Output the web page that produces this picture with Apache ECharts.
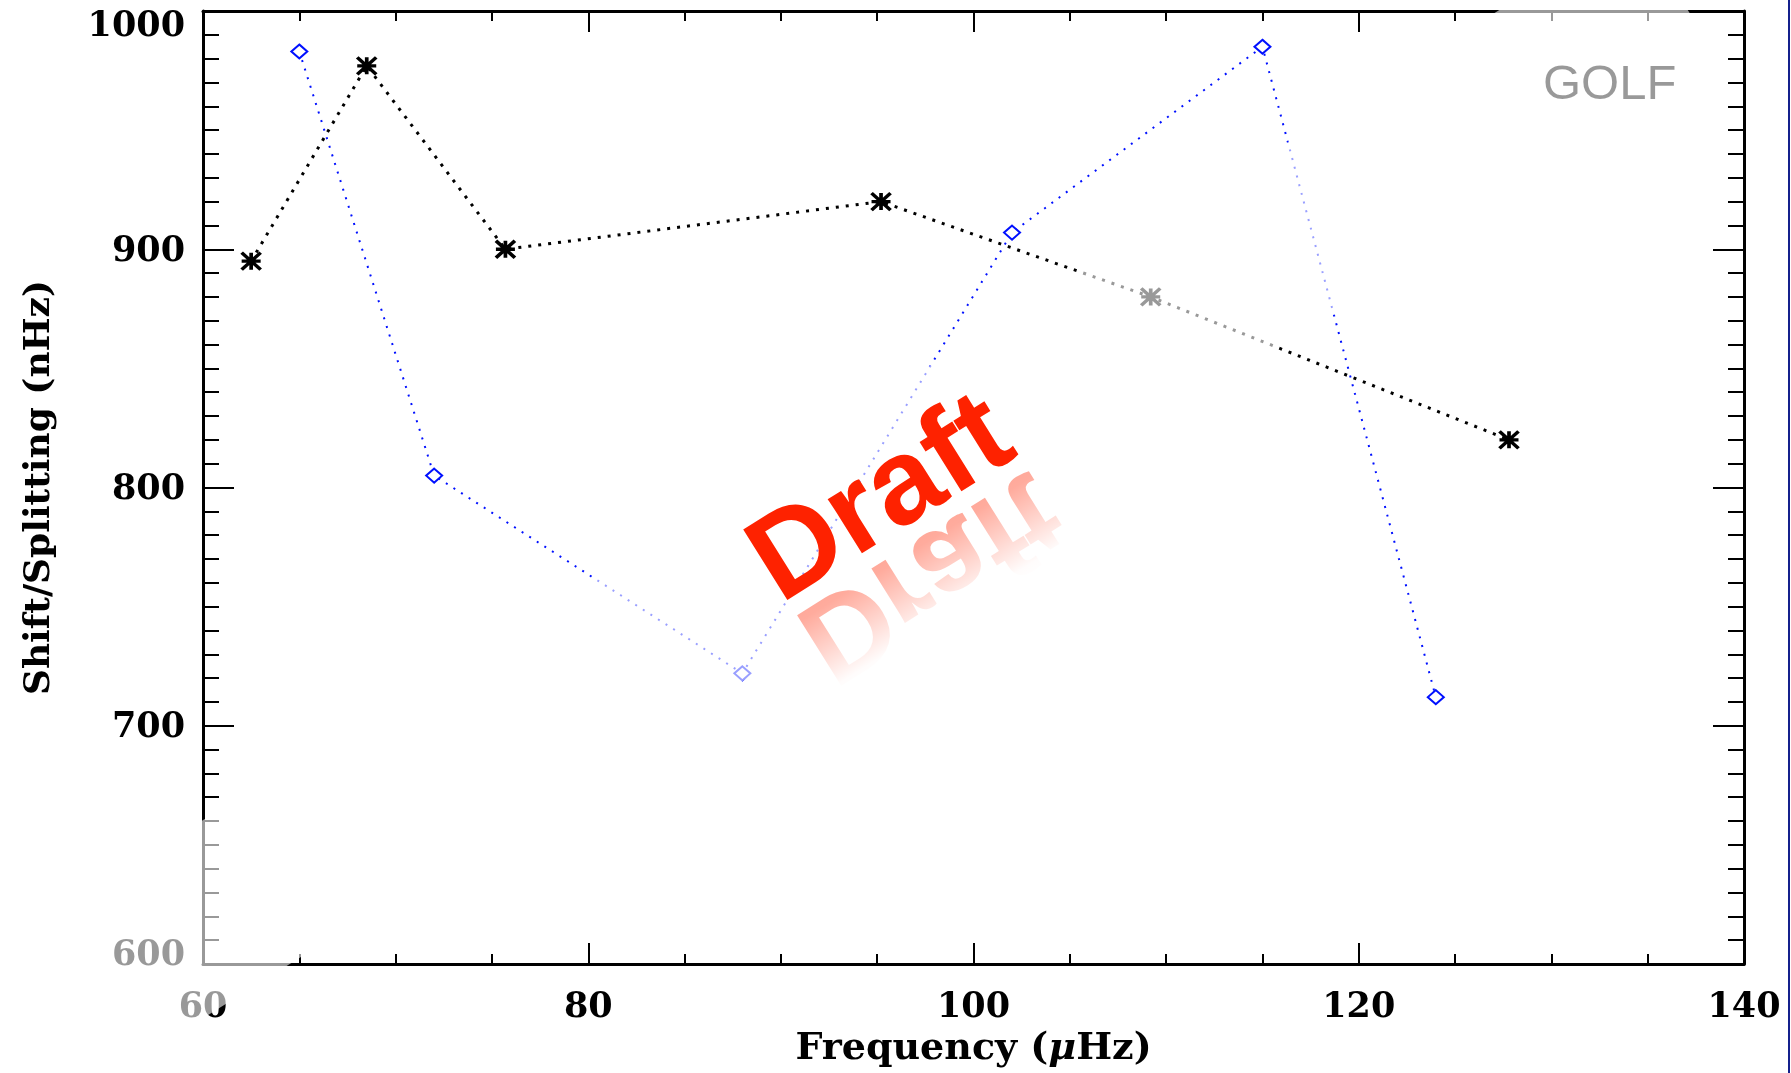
<!DOCTYPE html>
<html>
<head>
<meta charset="utf-8">
<title>GOLF shift / splitting</title>
<script src="https://cdn.jsdelivr.net/npm/echarts@6/dist/echarts.min.js"></script>
<style>
  html, body { margin: 0; padding: 0; background: #ffffff; }
  #chart { position: absolute; left: 0; top: 0; width: 1791px; height: 1073px; }
  #edge { position: absolute; left: 1788px; top: 0; width: 2px; height: 1073px; background: #14208c; }
</style>
</head>
<body>
<div id="chart"></div>
<div id="edge"></div>
<script>
// Frequency (µHz) and shift/splitting (nHz) for the two measured sets
const freqStar = [62.5, 68.5, 75.7, 95.2, 109.2, 127.8];
const shiftStar = [895, 977, 900, 920, 880, 820];
const freqDiamond = [65.0, 72.0, 88.0, 102.0, 115.0, 124.0];
const shiftDiamond = [983, 805, 722, 907, 985, 712];

// Axis tick values
const xTicks = [60, 80, 100, 120, 140];
const yTicks = [600, 700, 800, 900, 1000];

const serif = '"DejaVu Serif", "Liberation Serif", serif';
const sans = '"Liberation Sans", Arial, Helvetica, sans-serif';

const chart = echarts.init(document.getElementById('chart'), null, { renderer: 'canvas' });

function axisCommon(showLabel) {
  return {
    axisLine: { show: true, onZero: false, lineStyle: { color: '#000', width: 3 } },
    splitLine: { show: false },
    minorSplitLine: { show: false },
    axisLabel: { show: showLabel }
  };
}

const xMin = xTicks[0], xMax = xTicks[xTicks.length - 1], xStep = xTicks[1] - xTicks[0];
const yMin = yTicks[0], yMax = yTicks[yTicks.length - 1], yStep = yTicks[1] - yTicks[0];

const xBase = {
  type: 'value', min: xMin, max: xMax, interval: xStep,
  axisTick: { show: true, inside: true, length: 21, lineStyle: { color: '#000', width: 2 } },
  minorTick: { show: true, splitNumber: 4, length: 10, lineStyle: { color: '#000', width: 2 } }
};
const yBase = {
  type: 'value', min: yMin, max: yMax, interval: yStep,
  axisTick: { show: true, inside: true, length: 31, lineStyle: { color: '#000', width: 2 } },
  minorTick: { show: true, splitNumber: 10, length: 16, lineStyle: { color: '#000', width: 2 } }
};

// asterisk drawn as open strokes (X, horizontal and vertical bars)
const asterisk = 'path://M0 0L18 16M18 0L0 16M0 8L18 8M9 0L9 16';

// semi-transparent white band laid diagonally across the plot
const ang = 32 * Math.PI / 180;
const cs = Math.cos(ang), sn = Math.sin(ang);
function bandPt(a, b) { return [a * cs + b * sn, -a * sn + b * cs]; }
const hazePts = [bandPt(-450, 803), bandPt(-450, 971), bandPt(1426, 971), bandPt(1426, 803)];

const draftSize = 121;
const draftFont = 'bold ' + draftSize + 'px ' + sans;
const labelFont = { fontFamily: serif, fontSize: 35, fontWeight: 'bold', color: '#000' };

const option = {
  backgroundColor: '#ffffff',
  animation: false,
  grid: { left: 203, right: 47, top: 11, bottom: 109, containLabel: false },
  xAxis: [
    Object.assign({}, xBase, axisCommon(true), {
      position: 'bottom',
      axisLabel: Object.assign({ show: true, margin: 26, showMinLabel: true, showMaxLabel: true }, labelFont),
      name: 'Frequency ({mu|μ}Hz)',
      nameLocation: 'middle',
      nameGap: 66,
      nameTextStyle: {
        color: '#000', fontFamily: serif, fontSize: 38, fontWeight: 'bold',
        rich: {
          mu: { color: '#000', fontFamily: serif, fontSize: 38, fontWeight: 'bold', fontStyle: 'italic' }
        }
      }
    }),
    Object.assign({}, xBase, axisCommon(false), { position: 'top' })
  ],
  yAxis: [
    Object.assign({}, yBase, axisCommon(true), {
      position: 'left',
      axisLabel: Object.assign({
        show: true, margin: 18,
        showMinLabel: true, showMaxLabel: true,
        formatter: function (v) {
          if (v === yMax) return '{hi|' + v + '}';
          if (v === yMin) return '{lo|' + v + '}';
          return '{n|' + v + '}';
        },
        rich: {
          n: Object.assign({ padding: [5, 0, 0, 0] }, labelFont),
          hi: Object.assign({ padding: [31, 0, 0, 0] }, labelFont),
          lo: Object.assign({ padding: [0, 0, 17, 0] }, labelFont)
        }
      }, labelFont),
      name: 'Shift/Splitting (nHz)',
      nameLocation: 'middle',
      nameGap: 145,
      nameTextStyle: { color: '#000', fontFamily: serif, fontSize: 36, fontWeight: 'bold' }
    }),
    Object.assign({}, yBase, axisCommon(false), { position: 'right' })
  ],
  series: [
    {
      name: 'asterisk set',
      type: 'line',
      xAxisIndex: 0, yAxisIndex: 0,
      data: freqStar.map((f, i) => [f, shiftStar[i]]),
      symbol: asterisk,
      symbolSize: [19, 17],
      itemStyle: { color: '#000', borderColor: '#000', borderWidth: 3.5 },
      lineStyle: { color: '#000', width: 3, type: [3, 7] },
      z: 3
    },
    {
      name: 'diamond set',
      type: 'line',
      xAxisIndex: 0, yAxisIndex: 0,
      data: freqDiamond.map((f, i) => [f, shiftDiamond[i]]),
      symbol: 'emptyDiamond',
      symbolSize: [16, 14],
      itemStyle: { color: '#0010ff', borderWidth: 2 },
      lineStyle: { color: '#0010ff', width: 2, type: [2, 7] },
      z: 4
    }
  ],
  graphic: [
    {
      type: 'text', z: 10,
      x: 1543, y: 85,
      style: {
        text: 'GOLF', font: 'normal 49px ' + sans, fill: '#000',
        textAlign: 'left', textVerticalAlign: 'middle', align: 'left', verticalAlign: 'middle'
      }
    },
    {
      type: 'polygon', z: 50, silent: true,
      shape: { points: hazePts },
      style: { fill: 'rgba(255,255,255,0.6)', stroke: null }
    },
    {
      type: 'group', z: 60,
      x: 793, y: 607, rotation: ang,
      children: [
        // mirrored copy below the baseline
        {
          type: 'text', z: 60,
          x: -9, y: 0, scaleY: -1,
          style: {
            text: 'Draft', font: draftFont, x: 0, y: -0.35 * draftSize,
            textAlign: 'left', textVerticalAlign: 'middle', align: 'left', verticalAlign: 'middle',
            fill: 'rgba(255,45,10,0.42)'
          }
        },
        // fade of the mirrored copy, from clear at the baseline to white
        {
          type: 'rect', z: 61, silent: true,
          shape: { x: -30, y: 0, width: 340, height: 105 },
          style: {
            stroke: null,
            fill: new echarts.graphic.LinearGradient(0, 0, 0, 1, [
              { offset: 0, color: 'rgba(255,255,255,0)' },
              { offset: 0.15, color: 'rgba(255,255,255,0.05)' },
              { offset: 0.85, color: 'rgba(255,255,255,0.97)' },
              { offset: 1, color: 'rgba(255,255,255,1)' }
            ])
          }
        },
        {
          type: 'text', z: 62,
          x: -9, y: 0,
          style: {
            text: 'Draft', font: draftFont, x: 0, y: -0.35 * draftSize,
            textAlign: 'left', textVerticalAlign: 'middle', align: 'left', verticalAlign: 'middle',
            fill: '#fe2200',
            shadowColor: 'rgba(90,10,0,0.85)', shadowBlur: 3, shadowOffsetX: 2, shadowOffsetY: 3
          }
        }
      ]
    }
  ]
};

chart.setOption(option);
</script>
</body>
</html>
